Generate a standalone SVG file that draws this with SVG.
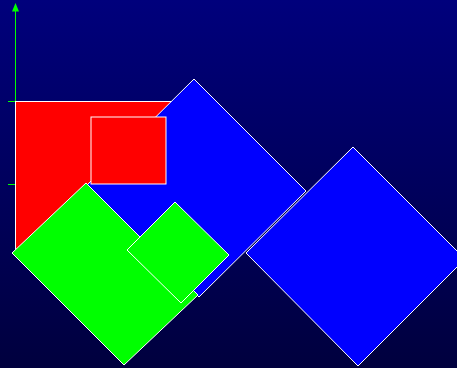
<svg xmlns="http://www.w3.org/2000/svg" width="457" height="368" viewBox="0 0 457 368">
  <defs>
    <linearGradient id="bg" x1="0" y1="0" x2="0" y2="1">
      <stop offset="0" stop-color="#00007c"/>
      <stop offset="1" stop-color="#00003e"/>
    </linearGradient>
  </defs>
  <style>
    .axis { stroke: #00ff00; stroke-width: 1; fill: none; }
    .arrow { fill: #00ff00; stroke: none; }
    .shape { stroke: #ffffff; stroke-width: 1; }
    .red { fill: #ff0000; }
    .blue { fill: #0000ff; }
    .green { fill: #00ff00; }
  </style>
  <rect x="0" y="0" width="457" height="368" fill="url(#bg)"/>
  <g id="axis">
    <line class="axis" x1="15.5" y1="10" x2="15.5" y2="184"/>
    <polygon class="arrow" points="15.5,3 12,11.5 19,11.5"/>
    <line class="axis" x1="8" y1="101.5" x2="15.5" y2="101.5"/>
    <line class="axis" x1="8" y1="184.5" x2="15.5" y2="184.5"/>
  </g>
  <g id="red-large">
    <rect class="shape red" x="15.5" y="101.5" width="158" height="151"/>
  </g>
  <g id="blue-1">
    <polygon class="shape blue" points="194,79 306,191 199,297 87,185"/>
  </g>
  <g id="blue-2">
    <polygon class="shape blue" points="353,147 465,259 358,366 246,253"/>
  </g>
  <g id="green-large">
    <polygon class="shape green" points="12,253 86,183 198,295 124,365"/>
  </g>
  <g id="red-small">
    <rect class="shape red" x="91" y="117" width="75" height="67"/>
  </g>
  <g id="green-small">
    <polygon class="shape green" points="175,202 229,255 181,303 127,250"/>
  </g>
  <g id="connectors"></g>
</svg>
